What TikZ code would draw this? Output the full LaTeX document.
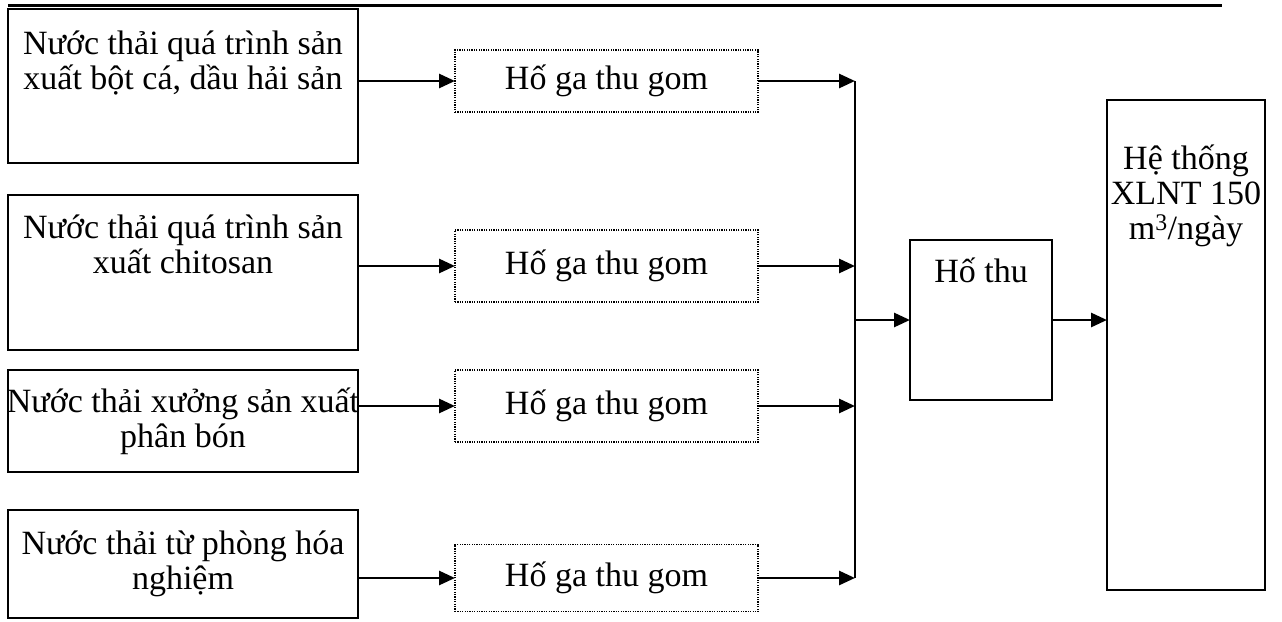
\documentclass[tikz,border=0pt]{standalone}
\usepackage{fontspec}
\setmainfont{Liberation Serif}
\usetikzlibrary{arrows.meta}
\begin{document}
\begin{tikzpicture}[x=1pt,y=-1pt,
  every node/.style={font=\fontsize{34}{35}\selectfont, inner sep=0pt, outer sep=0pt},
  solidbox/.style={draw, line width=1.8pt, rectangle},
  dotbox/.style={draw, line width=1.6pt, dash pattern=on 1.2pt off 1.2pt, rectangle,
                 minimum width=303pt, minimum height=62pt},
  txt/.style={align=center},
  flow/.style={line width=2.8pt, -{Triangle[length=16pt,width=14pt]}},
  plain/.style={line width=2.6pt}]
\useasboundingbox (0,0) rectangle (1282,621);

% rule along the top of the page
\coordinate (ruleL) at (8,5);
\coordinate (ruleR) at (1222,5);
\draw[line width=3pt] (ruleL) -- (ruleR);

% wastewater sources
\node[solidbox, minimum width=350pt, minimum height=154pt] (s1) at (183,86) {};
\node[txt, anchor=north] (t1) at ([yshift=-22pt]s1.north) {Nước thải quá trình sản\\xuất bột cá, dầu hải sản};
\node[solidbox, minimum width=350pt, minimum height=155pt] (s2) at (183,272.5) {};
\node[txt, anchor=north] (t2) at ([yshift=-20pt]s2.north) {Nước thải quá trình sản\\xuất chitosan};
\node[solidbox, minimum width=350pt, minimum height=102pt] (s3) at (183,421) {};
\node[txt] (t3) at (s3.center) {Nước thải xưởng sản xuất\\phân bón};
\node[solidbox, minimum width=350pt, minimum height=108pt] (s4) at (183,564) {};
\node[txt] (t4) at (s4.center) {Nước thải từ phòng hóa\\nghiệm};

% collection manholes
\node[dotbox] (g1) at (606.5,81) {Hố ga thu gom};
\node[dotbox, minimum height=72pt] (g2) at (606.5,266) {Hố ga thu gom};
\node[dotbox, minimum height=72pt] (g3) at (606.5,406) {Hố ga thu gom};
\node[dotbox, minimum height=67pt] (g4) at (606.5,578) {Hố ga thu gom};

% collection sump and treatment plant
\node[solidbox, minimum width=142pt, minimum height=160pt] (sump) at (981,320) {};
\node[anchor=north] (tsump) at ([yshift=-18pt]sump.north) {Hố thu};
\node[solidbox, minimum width=158pt, minimum height=490pt] (plant) at (1186,345) {};
\node[txt, anchor=north] (tplant) at ([yshift=-45pt]plant.north) {Hệ thống\\XLNT 150\\m\textsuperscript{3}/ngày};

% merge line
\coordinate (m1) at (855,81);
\coordinate (m2) at (855,266);
\coordinate (m3) at (855,406);
\coordinate (m4) at (855,578);
\coordinate (mj) at (855,320);

\draw[flow] (s1.east |- g1.west) -- (g1.west);
\draw[flow] (s2.east |- g2.west) -- (g2.west);
\draw[flow] (s3.east |- g3.west) -- (g3.west);
\draw[flow] (s4.east |- g4.west) -- (g4.west);

\draw[flow] (g1.east) -- (m1);
\draw[flow] (g2.east) -- (m2);
\draw[flow] (g3.east) -- (m3);
\draw[flow] (g4.east) -- (m4);
\draw[plain] (m1) -- (m4);

\draw[flow] (mj) -- (sump.west |- mj);
\draw[flow] (sump.east |- mj) -- (plant.west |- mj);
\end{tikzpicture}
\end{document}
